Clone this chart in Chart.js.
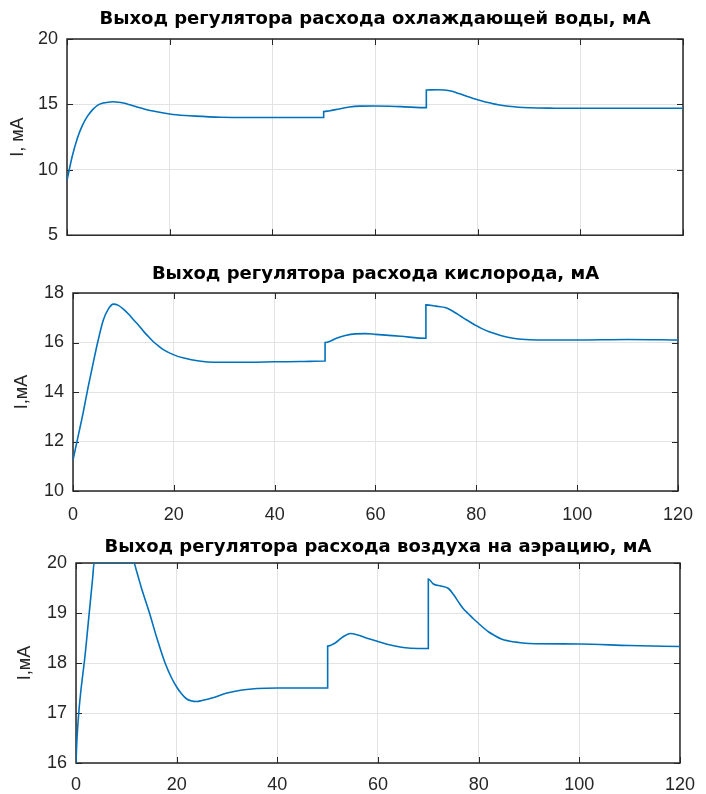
<!DOCTYPE html>
<html>
<head>
<meta charset="utf-8">
<script src="https://cdn.jsdelivr.net/npm/chart.js@4.4.1/dist/chart.umd.min.js"></script>
<style>
  html, body { margin: 0; padding: 0; background: #fff; }
  body { width: 706px; height: 794px; position: relative; overflow: hidden; }
  .box { position: absolute; left: 0; width: 706px; }
</style>
</head>
<body>
<div class="box" style="top:0;height:255px"><canvas id="c1"></canvas></div>
<div class="box" style="top:255px;height:270px"><canvas id="c2"></canvas></div>
<div class="box" style="top:530px;height:264px"><canvas id="c3"></canvas></div>
<script>
// ---- Data (time in s, current in mA) ----
const titles = [
  'Выход регулятора расхода охлаждающей воды, мА',
  'Выход регулятора расхода кислорода, мА',
  'Выход регулятора расхода воздуха на аэрацию, мА'
];
const yLabels = ['I, мА', 'I,мА', 'I,мА'];
const xTicks = [0, 20, 40, 60, 80, 100, 120];
const yTicks1 = [5, 10, 15, 20];
const yTicks2 = [10, 12, 14, 16, 18];
const yTicks3 = [16, 17, 18, 19, 20];

const t1 = [0,1,2,3,4,5,6,7,8,9,10,11,12,13,14,15,17,20,23,25,30,35,40,45,50,50,51,53,55,57,60,65,70,70,72,73.5,75,76,77,78,79,80,81,82,83,84,86,88,90,95,100,110,120];
const v1 = [9.2,11.0,12.4,13.4,14.1,14.6,14.95,15.1,15.17,15.2,15.17,15.1,15.0,14.88,14.77,14.65,14.47,14.27,14.15,14.1,14.02,14.0,14.0,14.0,14.0,14.45,14.5,14.65,14.8,14.87,14.88,14.83,14.75,16.1,16.12,16.1,16.0,15.88,15.74,15.6,15.47,15.35,15.24,15.14,15.05,14.97,14.86,14.78,14.74,14.71,14.7,14.7,14.7];

const t2 = [0,1,2,3,4,5,6,7,8,9,10,11,12,13,14,15,16,17,18,20,22,25,28,30,35,40,45,50,50,51,52,54,56,58,60,65,70,70,72,74,75,76,77,78,79,80,81,82,83,85,87,89,92,100,110,120];
const v2 = [11.25,12.2,13.15,14.2,15.17,16.1,16.9,17.35,17.55,17.5,17.35,17.15,16.92,16.7,16.45,16.23,16.02,15.85,15.7,15.5,15.37,15.25,15.2,15.2,15.2,15.22,15.23,15.25,16.0,16.05,16.15,16.28,16.35,16.36,16.33,16.25,16.17,17.52,17.47,17.4,17.3,17.18,17.05,16.92,16.8,16.68,16.57,16.48,16.4,16.27,16.18,16.13,16.1,16.1,16.12,16.1];

const t3 = [0,0.2,1.9,3.3,3.6,11.5,12,13,14.6,16,17.7,19,20,21,22,23,24,25,27,30,33,36,40,45,50,50,51.5,53,54.5,56,58,60,62,65,68,70,70,71,72.5,74,75,76.2,77,78,79,80,81,82,83,84.5,86,88,90,100,110,120];
const v3 = [16.0,16.5,18.25,19.69,20,20,19.85,19.5,19.0,18.52,18.0,17.7,17.52,17.38,17.28,17.24,17.23,17.25,17.3,17.4,17.46,17.49,17.5,17.5,17.5,18.34,18.4,18.52,18.59,18.56,18.49,18.43,18.37,18.31,18.29,18.29,19.68,19.58,19.54,19.49,19.37,19.19,19.08,18.98,18.88,18.79,18.7,18.62,18.56,18.48,18.44,18.41,18.39,18.38,18.35,18.33];

// ---- Styling / layout ----
const FONT = '"Liberation Sans", Arial, sans-serif';
const TFONT = '"DejaVu Sans", "Liberation Sans", sans-serif';
const AXC = '#262626';

const boxPlugin = {
  id: 'matlabBox',
  beforeDatasetsDraw(chart) {
    const { ctx, chartArea: a, scales: { x, y } } = chart;
    ctx.save();
    ctx.strokeStyle = AXC;
    ctx.lineWidth = 1;
    ctx.beginPath();
    x.ticks.forEach(t => {
      const px = Math.round(x.getPixelForValue(t.value)) + 0.5;
      ctx.moveTo(px, a.bottom); ctx.lineTo(px, a.bottom - 6);
      ctx.moveTo(px, a.top); ctx.lineTo(px, a.top + 6);
    });
    y.ticks.forEach(t => {
      const py = Math.round(y.getPixelForValue(t.value)) + 0.5;
      ctx.moveTo(a.left, py); ctx.lineTo(a.left + 6, py);
      ctx.moveTo(a.right, py); ctx.lineTo(a.right - 6, py);
    });
    ctx.stroke();
    ctx.lineWidth = 1.5;
    ctx.strokeRect(a.left, a.top, a.right - a.left, a.bottom - a.top);
    ctx.restore();
  }
};

function makeChart(id, cfg) {
  const pts = cfg.t.map((tv, i) => ({ x: tv, y: cfg.v[i] }));
  return new Chart(document.getElementById(id), {
    type: 'line',
    data: { datasets: [{ data: pts, borderColor: '#0072BD', borderWidth: 1.6, pointRadius: 0,
      cubicInterpolationMode: 'monotone', fill: false }] },
    options: {
      responsive: true, maintainAspectRatio: false, animation: false,
      layout: { padding: { left: 0, right: cfg.padRight, top: 0, bottom: 0 } },
      plugins: {
        legend: { display: false }, tooltip: { enabled: false },
        title: { display: true, fullSize: false, text: cfg.title, color: '#000',
          font: { family: TFONT, size: 18, weight: 'bold' },
          padding: { top: cfg.titleTop, bottom: cfg.titleBottom } }
      },
      scales: {
        x: {
          type: 'linear', min: 0, max: 120,
          afterBuildTicks: s => { s.ticks = xTicks.map(v => ({ value: v })); },
          afterFit: s => { s.height = cfg.xH; },
          grid: { color: '#e3e3e3', drawTicks: false, lineWidth: 1 },
          border: { display: false },
          ticks: { display: cfg.showX, color: AXC, padding: cfg.xPad, maxRotation: 0,
            font: { family: FONT, size: 18 } }
        },
        y: {
          type: 'linear', min: cfg.yMin, max: cfg.yMax,
          afterBuildTicks: s => { s.ticks = cfg.yTicks.map(v => ({ value: v })); },
          afterFit: s => { s.width = cfg.left; },
          grid: { color: '#e3e3e3', drawTicks: false, lineWidth: 1 },
          border: { display: false },
          ticks: { color: AXC, padding: 9, font: { family: FONT, size: 18 } },
          title: { display: true, text: cfg.ylabel, color: AXC,
            font: { family: FONT, size: 18 }, padding: { top: cfg.yTitleTop, bottom: 0 } }
        }
      }
    },
    plugins: [boxPlugin]
  });
}

makeChart('c1', { t: t1, v: v1, title: titles[0], ylabel: yLabels[0], yMin: 5, yMax: 20, yTicks: yTicks1,
  left: 67, padRight: 23, titleTop: 8.2, titleBottom: 9.2, xH: 17, showX: false, xPad: 8, yTitleTop: 7 });
makeChart('c2', { t: t2, v: v2, title: titles[1], ylabel: yLabels[1], yMin: 10, yMax: 18, yTicks: yTicks2,
  left: 73, padRight: 17, titleTop: 8.7, titleBottom: 7.7, xH: 34, showX: true, xPad: 13, yTitleTop: 11 });
makeChart('c3', { t: t3, v: v3, title: titles[2], ylabel: yLabels[2], yMin: 16, yMax: 20, yTicks: yTicks3,
  left: 76, padRight: 15, titleTop: 6.2, titleBottom: 5.2, xH: 31, showX: true, xPad: 11, yTitleTop: 14 });
</script>
</body>
</html>
